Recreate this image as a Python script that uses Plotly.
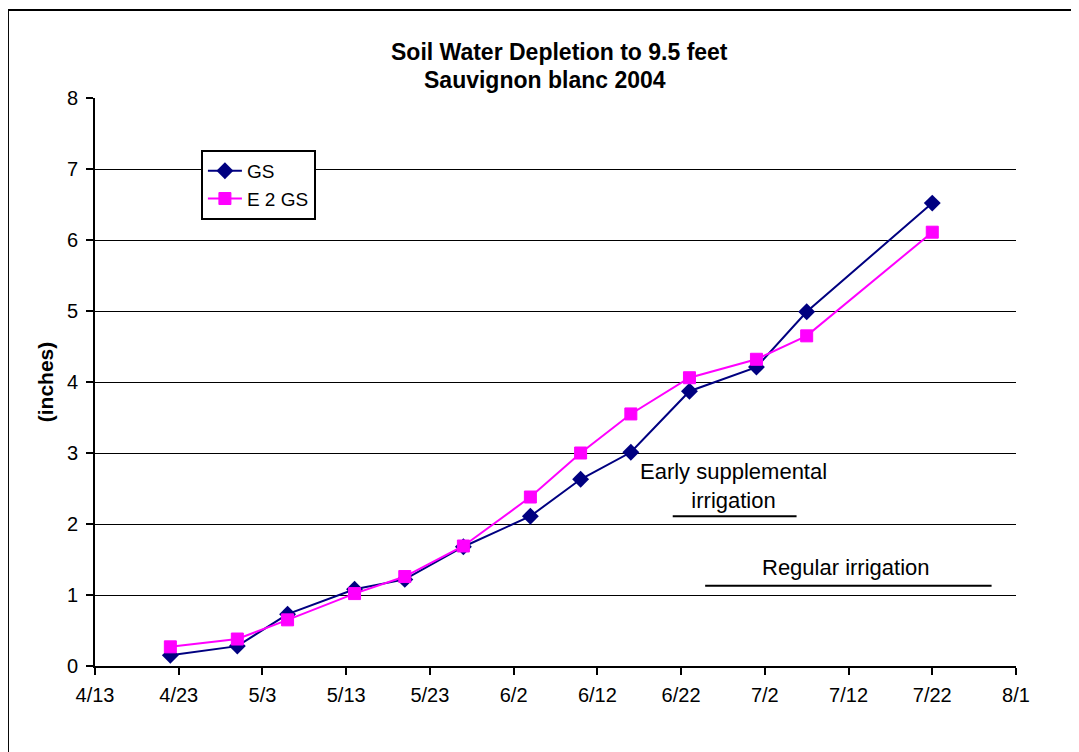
import plotly.graph_objects as go

dates = ["2004-04-22", "2004-04-30", "2004-05-06", "2004-05-14", "2004-05-20", "2004-05-27",
         "2004-06-04", "2004-06-10", "2004-06-16", "2004-06-23", "2004-07-01", "2004-07-07",
         "2004-07-22"]
gs = [0.15, 0.28, 0.73, 1.08, 1.22, 1.68, 2.11, 2.63, 3.01, 3.87, 4.21, 4.99, 6.52]
e2gs = [0.27, 0.38, 0.65, 1.02, 1.26, 1.69, 2.38, 3.00, 3.55, 4.06, 4.32, 4.65, 6.11]

title_lines = ["Soil Water Depletion to 9.5 feet", "Sauvignon blanc 2004"]
y_title = "(inches)"
early_label = "Early supplemental<br>irrigation"
early_span = ["2004-06-21 00:00", "2004-07-05 19:00"]
early_level = 2.11
regular_label = "Regular irrigation"
regular_span = ["2004-06-24 21:00", "2004-07-29 02:00"]
regular_level = 1.13

font = "Liberation Sans, Arial, sans-serif"

fig = go.Figure()
fig.add_trace(go.Scatter(
    x=dates, y=gs, name="GS", mode="lines+markers",
    line=dict(color="#000080", width=2),
    marker=dict(symbol="diamond", size=13, color="#000080"),
))
fig.add_trace(go.Scatter(
    x=dates, y=e2gs, name="E 2 GS", mode="lines+markers",
    line=dict(color="#FF00FF", width=2),
    marker=dict(symbol="square", size=12, color="#FF00FF",
                line=dict(color="#FF00FF", width=1)),
))

# annotation lines
fig.add_shape(type="line", xref="x", yref="y", x0=early_span[0], x1=early_span[1],
              y0=early_level, y1=early_level, line=dict(color="black", width=2))
fig.add_shape(type="line", xref="x", yref="y", x0=regular_span[0], x1=regular_span[1],
              y0=regular_level, y1=regular_level, line=dict(color="black", width=2))
fig.add_annotation(x="2004-06-28 07:00", y=2.535, xref="x", yref="y", text=early_label,
                   showarrow=False, font=dict(family=font, size=22, color="black"),
                   align="center", yanchor="middle")
fig.add_annotation(x="2004-07-11 17:00", y=1.394, xref="x", yref="y", text=regular_label,
                   showarrow=False, font=dict(family=font, size=22, color="black"),
                   yanchor="middle")

# title
fig.add_annotation(x=0.504, y=1.081, xref="paper", yref="paper",
                   text="<b>" + title_lines[0] + "</b>", showarrow=False,
                   xanchor="center", yanchor="middle",
                   font=dict(family=font, size=23, color="black"))
fig.add_annotation(x=0.489, y=1.032, xref="paper", yref="paper",
                   text="<b>" + title_lines[1] + "</b>", showarrow=False,
                   xanchor="center", yanchor="middle",
                   font=dict(family=font, size=23, color="black"))

# outer border
fig.add_shape(type="rect", xref="paper", yref="paper",
              x0=-0.0945, x1=1.064, y0=-0.3, y1=1.155,
              line=dict(color="black", width=2), fillcolor="rgba(0,0,0,0)")

fig.update_layout(
    width=1071, height=744,
    margin=dict(l=87, r=63, t=90, b=86),
    paper_bgcolor="white", plot_bgcolor="white",
    font=dict(family=font, size=18, color="black"),
    showlegend=True,
    legend=dict(x=0.115, y=0.9085, xanchor="left", yanchor="top",
                bgcolor="white", bordercolor="black", borderwidth=2,
                font=dict(family=font, size=19, color="black"),
                itemwidth=34, tracegroupgap=0),
)
fig.update_xaxes(
    type="date", range=["2004-04-13", "2004-08-01"],
    tick0="2004-04-13", dtick=10 * 24 * 3600 * 1000, tickformat="%-m/%-d",
    showgrid=False, showline=True, linecolor="black", linewidth=2,
    ticks="outside", ticklen=7, tickcolor="black", tickwidth=2,
    tickfont=dict(family=font, size=20), ticklabelstandoff=3,
    zeroline=False,
)
fig.update_yaxes(
    range=[0, 8], dtick=1, showgrid=True, gridcolor="black", gridwidth=1,
    showline=True, linecolor="black", linewidth=2,
    ticks="outside", ticklen=7, tickcolor="black", tickwidth=2,
    tickfont=dict(family=font, size=20), zeroline=False, ticklabelstandoff=4,
    title=dict(text="<b>" + y_title + "</b>", font=dict(family=font, size=21), standoff=8),
)

fig.write_html("out.html")
